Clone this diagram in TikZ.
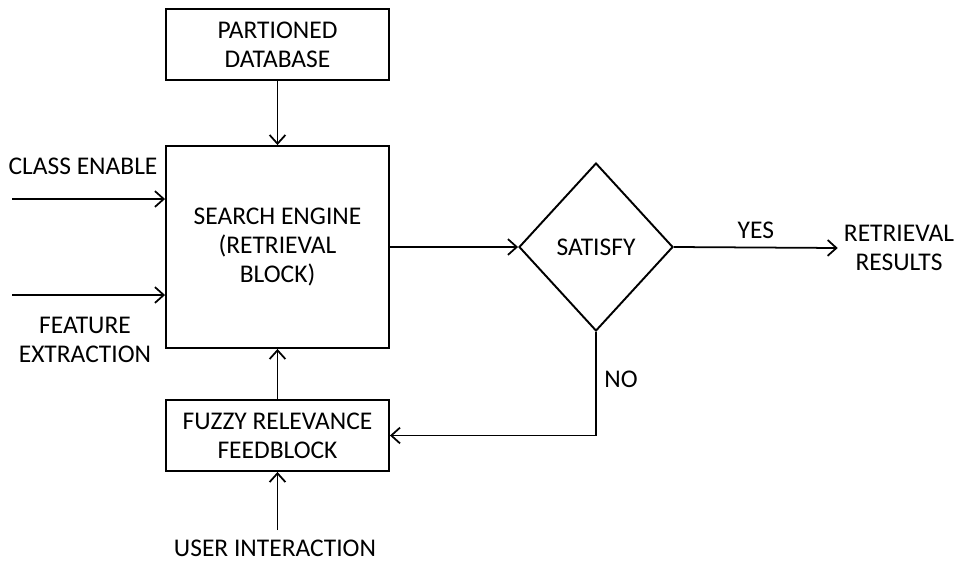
\documentclass[tikz,border=0pt]{standalone}
\usepackage{fontspec}
\setmainfont{Carlito}
\usetikzlibrary{arrows.meta,shapes.geometric}

\begin{document}
\begin{tikzpicture}[x=0.02cm,y=-0.02cm,>={Straight Barb[length=5pt,width=9pt]},
	every node/.style={font=\fontsize{14.5}{16.6}\selectfont,align=center},
	block/.style={draw,line width=1.1pt,minimum width=4.46cm,inner sep=0pt},
	line/.style={line width=1pt}]
	\useasboundingbox (0,0) rectangle (957,561);
	\node [block,minimum height=1.42cm] (db) at (277.5,44.5) {PARTIONED\\DATABASE};
	\node [block,minimum height=4.04cm] (se) at (277.5,247) {SEARCH ENGINE\\(RETRIEVAL\\BLOCK)};
	\node [block,minimum height=1.42cm] (fb) at (277.5,435.5) {FUZZY RELEVANCE\\FEEDBLOCK};
	\node [diamond,draw,line width=1.1pt,minimum width=3.08cm,minimum height=3.36cm,inner sep=0pt] (sat) at (596,247) {SATISFY};
	\node (ce) at (83,166) {CLASS ENABLE};
	\node (fe) at (85,340) {FEATURE\\EXTRACTION};
	\node (res) at (899,248) {RETRIEVAL\\RESULTS};
	\node (user) at (275,548) {USER INTERACTION};
	\coordinate (cein) at (12,199);
	\coordinate (fein) at (12,295);
	\coordinate (userup) at (277.5,530);
	% arrows
	\draw [line,->] (db) -- (se);
	\draw [line,->] (cein) -- (se.west |- cein);
	\draw [line,->] (fein) -- (se.west |- fein);
	\draw [line,->] (se.east |- sat.west) -- (sat.west);
	\draw [line,->] (sat.east) -- node [above=1pt] (yes) {YES} (res.west);
	\draw [line,->] (sat.south) |- node [pos=0.23,right=1pt] (no) {NO} (fb.east);
	\draw [line,->] (fb) -- (se);
	\draw [line,->] (userup) -- (fb.south);
\end{tikzpicture}
\end{document}
